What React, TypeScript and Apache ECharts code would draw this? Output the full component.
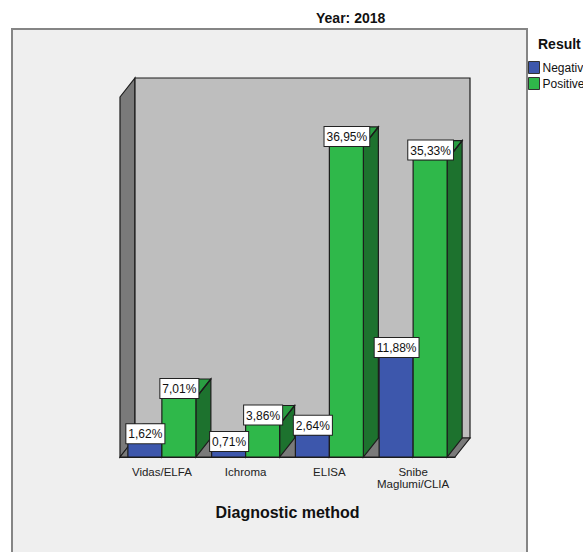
import React, { useEffect, useRef } from "react";
import * as echarts from "echarts";

const categories = ["Vidas/ELFA", "Ichroma", "ELISA", "Snibe\nMaglumi/CLIA"];
const negative = [1.62, 0.71, 2.64, 11.88];
const positive = [7.01, 3.86, 36.95, 35.33];
const seriesNames = ["Negative", "Positive"];
const FONT = "'Liberation Sans', Arial, sans-serif";
const BLUE = "#3d57ac";
const GREEN = "#2fb84a";
const GREEN_TOP = "#2a9e42";
const GREEN_SIDE = "#1d722e";
const EDGE = "#1c1c1c";
const DX = 15;
const DY = 19;
const BAR_W = 34;

const barRenderer = (side: number, front: string, topColor: string, sideColor: string) => (_p: any, api: any) => {
  const top = api.coord([api.value(0), api.value(1)]);
  const base = api.coord([api.value(0), 0]);
  const cx = top[0];
  const x0 = side < 0 ? cx - BAR_W : cx;
  const x1 = x0 + BAR_W;
  const line = { stroke: EDGE, lineWidth: 1.2 };
  return {
    type: "group",
    children: [
      {
        type: "polygon",
        shape: { points: [[x1, top[1]], [x1 + DX, top[1] - DY], [x1 + DX, base[1] - DY], [x1, base[1]]] },
        style: { fill: sideColor, ...line },
      },
      {
        type: "polygon",
        shape: { points: [[x0, top[1]], [x0 + DX, top[1] - DY], [x1 + DX, top[1] - DY], [x1, top[1]]] },
        style: { fill: topColor, ...line },
      },
      {
        type: "line",
        shape: { x1: x1, y1: top[1], x2: x1 + DX, y2: top[1] - DY },
        style: line,
      },
      {
        type: "rect",
        shape: { x: x0, y: top[1], width: BAR_W, height: base[1] - top[1] },
        style: { fill: front, ...line },
      },
    ],
  };
};

const labelRenderer = (side: number) => (_p: any, api: any) => {
  const top = api.coord([api.value(0), api.value(1)]);
  const text = api.value(1).toFixed(2).replace(".", ",") + "%";
  return {
    type: "text",
    style: {
      x: top[0] + (side * BAR_W) / 2 + 0.5,
      y: top[1],
      text,
      align: "center",
      verticalAlign: "bottom",
      font: `12px ${FONT}`,
      fill: "#111",
      backgroundColor: "#fff",
      borderColor: "#222",
      borderWidth: 1,
      padding: [4, 2, 3, 2],
    },
  };
};

const points = (values: number[]) => values.map((v, i) => [i, v]);

export default function App() {
  const ref = useRef<HTMLDivElement>(null);
  useEffect(() => {
    const chart = echarts.init(ref.current!, undefined, { renderer: "svg" });
    chart.setOption({
      animation: false,
      backgroundColor: "#fff",
      title: {
        text: "Year: 2018",
        left: 311,
        top: 6,
        textStyle: { fontFamily: FONT, fontSize: 14, fontWeight: "bold", color: "#111" },
      },
      legend: {
        data: seriesNames,
        orient: "vertical",
        left: 528,
        top: 61,
        itemWidth: 11,
        itemHeight: 12,
        itemGap: 3,
        icon: "rect",
        padding: 0,
        textStyle: { fontFamily: FONT, fontSize: 12, color: "#111", padding: [0, 0, 0, -2] },
        itemStyle: { borderColor: "#333", borderWidth: 1 },
        selectedMode: false,
      },
      graphic: [
        {
          type: "rect",
          shape: { x: 12, y: 29, width: 515, height: 540 },
          style: { fill: "#efefef", stroke: "#858585", lineWidth: 2 },
          z: -10,
        },
        {
          type: "polygon",
          shape: { points: [[120, 97], [135, 78], [135, 438], [120, 457]] },
          style: { fill: "#7a7a7a", stroke: EDGE, lineWidth: 1.2 },
          z: -9,
        },
        {
          type: "rect",
          shape: { x: 135, y: 78, width: 335, height: 360 },
          style: { fill: "#bebebe", stroke: EDGE, lineWidth: 1.2 },
          z: -9,
        },
        {
          type: "polygon",
          shape: { points: [[120, 457], [135, 438], [470, 438], [455, 457]] },
          style: { fill: "#7a7a7a", stroke: EDGE, lineWidth: 1.2 },
          z: -8,
        },
        {
          type: "text",
          style: { x: 538, y: 37, text: "Result", font: `bold 14px ${FONT}`, fill: "#111" },
        },
      ],
      grid: { left: 120, top: 97, width: 335, height: 360 },
      xAxis: {
        type: "category",
        data: categories,
        boundaryGap: true,
        name: "Diagnostic method",
        nameLocation: "middle",
        nameGap: 47,
        nameTextStyle: { fontFamily: FONT, fontSize: 16, fontWeight: "bold", color: "#111" },
        axisLine: { lineStyle: { color: EDGE, width: 1.2 } },
        axisTick: { alignWithLabel: true, length: 8, lineStyle: { color: EDGE, width: 1 } },
        axisLabel: {
          interval: 0,
          margin: 9,
          fontFamily: FONT,
          fontSize: 11.5,
          lineHeight: 12,
          color: "#222",
        },
        z: 6,
      },
      yAxis: { type: "value", min: 0, max: 42.76, show: false },
      series: [
        {
          name: seriesNames[0],
          type: "custom",
          data: points(negative),
          itemStyle: { color: BLUE },
          renderItem: barRenderer(-1, BLUE, BLUE, BLUE),
          z: 3,
        },
        {
          name: seriesNames[1],
          type: "custom",
          data: points(positive),
          itemStyle: { color: GREEN },
          renderItem: barRenderer(1, GREEN, GREEN_TOP, GREEN_SIDE),
          z: 4,
        },
        { type: "custom", data: points(negative), renderItem: labelRenderer(-1), z: 7 },
        { type: "custom", data: points(positive), renderItem: labelRenderer(1), z: 7 },
      ],
    });
    return () => chart.dispose();
  }, []);
  return (
    <div
      ref={ref}
      style={{ position: "absolute", left: 0, top: 0, width: 583, height: 552, overflow: "hidden" }}
    />
  );
}
